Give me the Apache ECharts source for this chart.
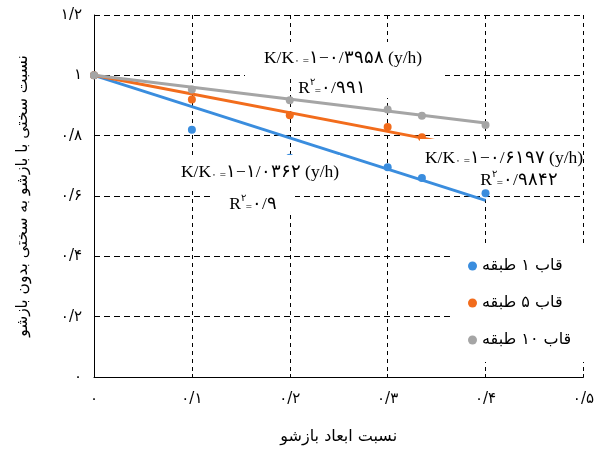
<!DOCTYPE html>
<html>
<head>
<meta charset="utf-8">
<script src="https://cdn.jsdelivr.net/npm/echarts@6/dist/echarts.min.js"></script>
<style>
html,body{margin:0;padding:0;background:#fff;}
#c{width:597px;height:457px;}
</style>
</head>
<body>
<div id="c"></div>
<script>
// ---- data ----
const seriesNames = ['قاب ۱ طبقه', 'قاب ۵ طبقه', 'قاب ۱۰ طبقه'];
const seriesColors = ['#3A8DDE', '#F26C1C', '#A5A5A5'];
const blueX = [0, 0.1, 0.2, 0.3, 0.335, 0.4];
const blueY = [1, 0.82, 0.727, 0.695, 0.66, 0.609];
const orangeX = [0, 0.1, 0.2, 0.3, 0.335];
const orangeY = [1, 0.92, 0.868, 0.829, 0.795];
const grayX = [0, 0.1, 0.2, 0.3, 0.335, 0.4];
const grayY = [1, 0.953, 0.917, 0.887, 0.866, 0.835];
// linear trend lines K/K0 = 1 - s*(y/h)
const trendSlopes = [1.0362, 0.6197, 0.3958];
const trendEnds = [0.4, 0.4, 0.4];
const xTickLabels = ['۰', '۰/۱', '۰/۲', '۰/۳', '۰/۴', '۰/۵'];
const yTickLabels = ['۰', '۰/۲', '۰/۴', '۰/۶', '۰/۸', '۱', '۱/۲'];
const xTitle = 'نسبت ابعاد بازشو';
const yTitle = 'نسبت سختی با بازشو به سختی بدون بازشو';
const eqCoefs = ['۱/۰۳۶۲', '۰/۶۱۹۷', '۰/۳۹۵۸'];
const r2Values = ['۰/۹', '۰/۹۸۴۲', '۰/۹۹۱'];

const pts = (xs, ys) => xs.map((x, i) => [x, ys[i]]);
const scatterData = [pts(blueX, blueY), pts(orangeX, orangeY), pts(grayX, grayY)];

const chart = echarts.init(document.getElementById('c'));
const serif = '"Liberation Serif","DejaVu Serif",serif';
const arabicFont = '"DejaVu Sans","Noto Sans",sans-serif';

const series = [];
scatterData.forEach((d, i) => {
  series.push({
    name: seriesNames[i], type: 'scatter', data: d, symbol: 'circle', symbolSize: 8,
    itemStyle: {color: seriesColors[i], opacity: 1}, z: 3 + i
  });
});
trendSlopes.forEach((s, i) => {
  series.push({
    name: 'trend' + i, type: 'line', showSymbol: false, silent: true,
    data: [[0, 1], [trendEnds[i], 1 - s * trendEnds[i]]],
    lineStyle: {color: seriesColors[i], width: 3}, z: 3 + i
  });
});

const rich = {
  m: {fontFamily: serif, fontSize: 17.5, color: '#000', verticalAlign: 'bottom', lineHeight: 20},
  s: {fontFamily: serif, fontSize: 11, color: '#000', verticalAlign: 'bottom', lineHeight: 17},
  p: {fontFamily: serif, fontSize: 10, color: '#000', verticalAlign: 'top', lineHeight: 14}
};
function eqText(c) { return '{m|K/K}{s|۰ =}{m|۱−' + c + ' (y/h)}'; }
function r2Text(v) { return '{m|R}{p|۲}{s|=}{m|' + v + '}'; }
function box(x, y, w, h) {
  return {type: 'rect', z: 50, silent: true, shape: {x: x, y: y, width: w, height: h}, style: {fill: '#fff'}};
}
function txt(x, y, t) {
  return {type: 'text', z: 51, silent: true, x: x, y: y,
    style: {text: t, rich: rich, align: 'center', verticalAlign: 'middle', textAlign: 'center', textVerticalAlign: 'middle'}};
}

const option = {
  animation: false,
  backgroundColor: '#fff',
  grid: {left: 94, right: 11, top: 15, bottom: 80},
  xAxis: {
    type: 'value', min: 0, max: 0.5, interval: 0.1,
    name: xTitle, nameLocation: 'middle', nameGap: 52,
    nameTextStyle: {fontFamily: arabicFont, fontSize: 16, color: '#000'},
    axisLine: {show: true, lineStyle: {color: '#000', width: 1}},
    axisTick: {show: true, inside: true, length: 3, lineStyle: {color: '#000'}},
    axisLabel: {margin: 15, fontSize: 15, color: '#000', fontFamily: arabicFont,
      formatter: v => xTickLabels[Math.round(v / 0.1)]},
    splitLine: {show: true, lineStyle: {color: '#000', width: 1, type: [4, 4]}}
  },
  yAxis: {
    type: 'value', min: 0, max: 1.2, interval: 0.2,
    name: yTitle, nameLocation: 'middle', nameGap: 63,
    nameTextStyle: {fontFamily: arabicFont, fontSize: 15.5, color: '#000'},
    axisLine: {show: true, lineStyle: {color: '#000', width: 1}},
    axisTick: {show: false},
    axisLabel: {margin: 12, fontSize: 15, color: '#000', fontFamily: arabicFont,
      formatter: v => yTickLabels[Math.round(v / 0.2)]},
    splitLine: {show: true, lineStyle: {color: '#000', width: 1, type: [6, 4]}}
  },
  legend: {
    data: seriesNames, orient: 'vertical', left: 452, top: 246,
    padding: [12, 16, 14, 16], backgroundColor: '#fff',
    icon: 'circle', itemWidth: 9, itemHeight: 9, itemGap: 21,
    textStyle: {fontFamily: arabicFont, fontSize: 16, color: '#000'}, z: 20
  },
  graphic: [
    box(245, 42, 200, 36), box(295, 77, 100, 21),
    box(180, 155, 160, 33), box(210, 188, 85, 27),
    box(420, 139, 160, 29), box(465, 167, 100, 22),
    txt(343, 57, eqText(eqCoefs[2])), txt(332, 87, r2Text(r2Values[2])),
    txt(260, 171, eqText(eqCoefs[0])), txt(253, 203, r2Text(r2Values[0])),
    txt(504, 157, eqText(eqCoefs[1])), txt(519, 179, r2Text(r2Values[1]))
  ],
  series: series
};
chart.setOption(option);
</script>
</body>
</html>
